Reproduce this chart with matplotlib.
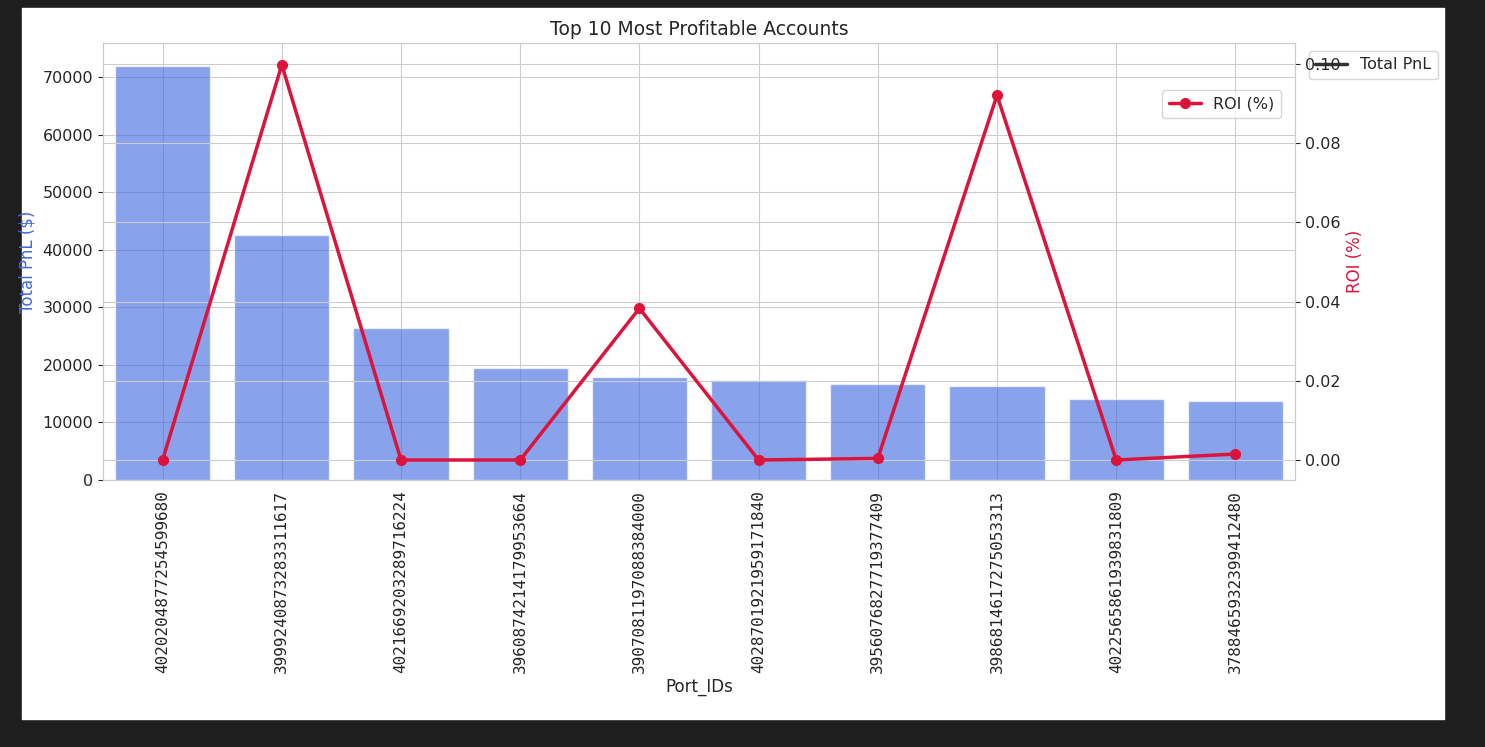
import matplotlib
matplotlib.use("Agg")
import matplotlib.pyplot as plt
import seaborn as sns
from matplotlib.lines import Line2D
from matplotlib.patches import Rectangle

port_ids = ["4020204877254599680", "3999240873283311617", "4021669203289716224",
            "3960874214179953664", "3907081197088384000", "4028701921959171840",
            "3956076827719377409", "3986814617275053313", "4022565861939831809",
            "3788465932399412480"]
total_pnl = [71900, 42550, 26350, 19450, 17900, 17400, 16700, 16250, 14050, 13750]
roi = [0.0, 0.0998, 0.0, 0.0, 0.0383, 0.0, 0.0004, 0.0921, 0.0, 0.0015]

sns.set_style("whitegrid")
fig = plt.figure(figsize=(14.85, 7.47), dpi=100, facecolor="#1e1e1e")
bg = Rectangle((22/1485, 1-719/747), (1444-22)/1485, (719-8)/747,
               transform=fig.transFigure, facecolor="white", zorder=-10)
fig.add_artist(bg)
ax = fig.add_axes([103/1485, 1-480/747, (1295-103)/1485, (480-43)/747])
x = list(range(len(port_ids)))
ax.bar(x, total_pnl, width=0.8, color="royalblue", alpha=0.62)
ax.set_xlim(-0.5, len(port_ids)-0.5)
ax.set_ylim(0, 75900)
ax.set_xticks(x)
ax.set_xticklabels(port_ids, rotation=90, family="DejaVu Sans Mono", fontsize=11.5)
ax.tick_params(axis="y", labelsize=11.5)
ax.set_ylabel("Total PnL ($)", color="royalblue", fontsize=12)
ax.set_xlabel("Port_IDs", fontsize=12)
ax.set_title("Top 10 Most Profitable Accounts", fontsize=13.5)

ax2 = ax.twinx()
ax2.plot(x, roi, color="crimson", marker="o", linewidth=2.5, markersize=7, label="ROI (%)")
ax2.set_ylim(-0.00505, 0.1053)
ax2.set_yticks([0.0, 0.02, 0.04, 0.06, 0.08, 0.10])
ax2.set_yticklabels(["0.00", "0.02", "0.04", "0.06", "0.08", "0.10"])
ax2.tick_params(axis="y", labelsize=11.5)
ax2.set_ylabel("ROI (%)", color="crimson", fontsize=12)

ax.legend(handles=[Line2D([], [], color="#333333", linewidth=2.5)], labels=["Total PnL"],
          loc="upper left", bbox_to_anchor=(1.005, 1.0), fontsize=11.5)
ax2.legend(loc="upper right", bbox_to_anchor=(0.995, 0.91), fontsize=11.5)

fig.savefig("out.png", dpi=100, facecolor=fig.get_facecolor())
